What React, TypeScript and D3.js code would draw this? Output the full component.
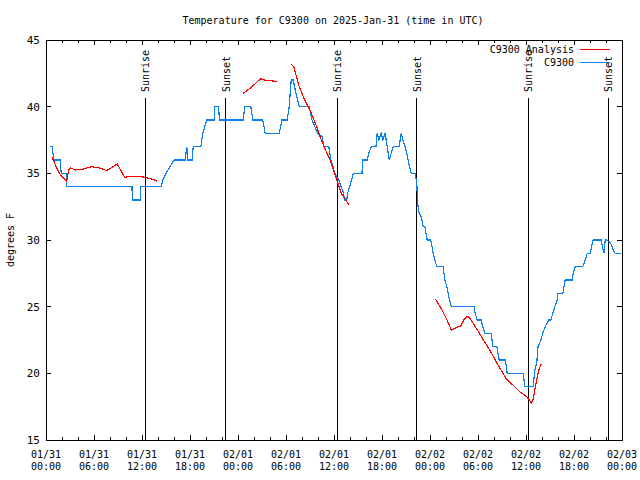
import React from "react";
import * as d3 from "d3";

// ---- data (hours since 2025-01-31 00:00 UTC) ----
const xTickLabels = [
  ["01/31", "00:00"], ["01/31", "06:00"], ["01/31", "12:00"], ["01/31", "18:00"],
  ["02/01", "00:00"], ["02/01", "06:00"], ["02/01", "12:00"], ["02/01", "18:00"],
  ["02/02", "00:00"], ["02/02", "06:00"], ["02/02", "12:00"], ["02/02", "18:00"],
  ["02/03", "00:00"],
];
const yTicks = [15, 20, 25, 30, 35, 40, 45];

const sunLabels = ["Sunrise", "Sunset", "Sunrise", "Sunset", "Sunrise", "Sunset"];
const sunHours = [12.375, 22.45, 36.4, 46.35, 60.25, 70.3];

const obsHours = [
  0.5, 0.75, 1.0, 1.75, 1.9, 2.55, 2.6, 10.75, 10.8, 11.8, 11.85, 14.4, 14.6, 15.0, 15.5, 16.0,
  17.4, 17.6, 17.75, 18.25, 18.4, 19.35, 19.6, 19.85, 20.1, 21.05, 21.1, 21.55, 21.7, 24.65,
  24.85, 25.6, 25.85, 27.1, 27.4, 29.15, 29.5, 30.15, 30.4, 30.65, 30.9, 31.15, 31.65, 32.9,
  33.25, 33.6, 34.0, 34.5, 34.75, 35.35, 35.6, 35.9, 36.1, 36.35, 36.6, 36.9, 37.2, 37.3, 37.6,
  37.7, 37.95, 38.2, 38.4, 39.5, 39.6, 40.15, 40.35, 40.65, 41.25, 41.4, 41.6, 41.9, 42.1, 42.4,
  42.65, 42.9, 43.15, 43.4, 44.15, 44.4, 44.6, 44.9, 45.1, 45.35, 45.65, 46.15, 46.35, 46.4,
  46.5, 46.65, 46.9, 47.15, 47.35, 47.65, 48.1, 48.4, 48.6, 48.85, 49.65, 49.85, 50.1, 50.35,
  50.65, 53.5, 53.65, 53.9, 54.4, 54.6, 54.85, 55.65, 55.85, 56.35, 56.5, 56.65, 57.4, 57.55,
  57.65, 59.65, 59.85, 60.9, 61.1, 61.35, 61.5, 61.85, 62.1, 62.4, 62.85, 63.1, 63.35, 63.6,
  63.9, 64.0, 64.6, 64.75, 64.9, 65.75, 65.9, 66.15, 67.1, 67.4, 67.65, 68.0, 68.2, 68.4, 69.4,
  69.55, 69.75, 69.9, 70.1, 70.6, 70.9, 71.15, 71.9,
];
const obsTemps = [
  37, 37, 36, 36, 35, 35, 34, 34, 33, 33, 34, 34, 34.5, 35, 35.5, 36,
  36, 37, 36, 36, 37, 37, 38, 38.5, 39, 39, 40, 40, 39, 39,
  40, 40, 39, 39, 38, 38, 39, 39, 40, 42, 42, 41.25, 40, 40,
  39, 38.5, 38, 37.75, 37, 37, 36, 35.5, 35, 34.75, 34.5, 34, 33.5, 33, 33,
  33.5, 34, 34.5, 35, 35, 36, 36, 36.5, 37, 37, 38, 37.5, 38, 37.5, 38,
  37, 36, 36.5, 37, 37, 38, 37.5, 37, 36.5, 35.75, 35, 35, 34.25, 33.5,
  32.5, 32, 31.75, 31, 31, 30, 30, 29, 28.5, 28, 28, 27, 26.5, 25.75,
  25, 25, 24.5, 24, 24, 23.5, 23, 23, 22, 22, 21.5, 21, 21, 20.5,
  20, 20, 19, 19, 20.25, 20.8, 22, 22.5, 23, 23.5, 24, 24, 24.5, 25,
  25.5, 26, 26, 26.5, 27, 27, 27.5, 28, 28, 28.5, 29, 29, 29.5, 30, 30,
  29.5, 29, 30, 30, 29.75, 29.25, 29, 29,
];

const analysisSeg1Hours = [0.75, 1.09, 1.66, 2.59, 2.84, 3.09, 3.66, 4.5, 5.41, 5.66, 6.75, 7.59, 8.91, 9.84, 10.34, 11.75, 12.41, 13.34, 13.91];
const analysisSeg1Temps = [36.2, 35.75, 35.0, 34.4, 35.3, 35.4, 35.25, 35.3, 35.45, 35.5, 35.4, 35.2, 35.7, 34.7, 34.75, 34.75, 34.7, 34.55, 34.4];
const analysisSeg2Hours = [24.66, 25.75, 26.84, 27.25, 27.84, 28.84];
const analysisSeg2Temps = [41.0, 41.5, 42.1, 42.0, 41.95, 41.9];
const analysisSeg3Hours = [30.66, 31.0, 31.59, 32.16, 32.66, 33.0, 33.84, 34.25, 34.91, 35.5, 36.09, 36.5, 36.91, 37.41, 37.75, 37.91];
const analysisSeg3Temps = [43.2, 42.95, 41.6, 40.75, 40.1, 39.75, 38.5, 37.75, 36.8, 36.0, 35.0, 34.25, 33.5, 33.1, 32.7, 32.7];
const analysisSeg4Hours = [48.66, 49.5, 50.09, 50.66, 51.34, 51.84, 52.25, 52.75, 53.25, 53.91, 54.84, 55.75, 56.66, 57.59, 58.41, 59.25, 60.09, 60.66, 60.91, 61.25, 61.59, 61.91];
const analysisSeg4Temps = [25.6, 24.75, 24.05, 23.25, 23.45, 23.55, 24.05, 24.3, 23.9, 23.25, 22.35, 21.45, 20.45, 19.55, 19.1, 18.6, 18.25, 17.8, 18.1, 19.25, 20.25, 20.7];

const analysisSegments = [
  [analysisSeg1Hours, analysisSeg1Temps],
  [analysisSeg2Hours, analysisSeg2Temps],
  [analysisSeg3Hours, analysisSeg3Temps],
  [analysisSeg4Hours, analysisSeg4Temps],
];

const RED = "#ff0000";
const BLUE = "#0a80f0";
const FONT = "'DejaVu Sans Mono', 'Liberation Mono', monospace";

export default function App() {
  const W = 640, H = 480;
  const left = 46, right = 622, top = 40, bottom = 440;
  const x = d3.scaleLinear().domain([0, 72]).range([left, right]);
  const y = d3.scaleLinear().domain([15, 45]).range([bottom, top]);

  const line = d3
    .line<[number, number]>()
    .x((d) => x(d[0]))
    .y((d) => y(d[1]));

  const obsPts: [number, number][] = obsHours.map((h, i) => [h, obsTemps[i]]);

  const minorHours = d3.range(0, 73, 2);
  const majorHours = d3.range(0, 73, 6);

  return (
    <svg
      width={W}
      height={H}
      style={{ position: "absolute", left: 0, top: 0, background: "#fff" }}
      fontFamily={FONT}
      fontSize={10}
    >
      <rect x={0} y={0} width={W} height={H} fill="#fff" />
      <text x={333} y={24} textAnchor="middle" fill="#000">
        Temperature for C9300 on 2025-Jan-31 (time in UTC)
      </text>

      {/* y ticks */}
      {yTicks.map((t) => (
        <g key={"y" + t}>
          <line x1={left} x2={left + 5} y1={y(t)} y2={y(t)} stroke="#000" shapeRendering="crispEdges" />
          <line x1={right - 5} x2={right} y1={y(t)} y2={y(t)} stroke="#000" shapeRendering="crispEdges" />
          <text x={40} y={y(t) + 4} textAnchor="end" fill="#000" fontSize={11}>
            {t}
          </text>
        </g>
      ))}

      {/* x ticks */}
      {minorHours.map((h) => {
        const len = h % 6 === 0 ? 5 : 3;
        return (
          <g key={"xt" + h}>
            <line x1={x(h)} x2={x(h)} y1={bottom} y2={bottom - len} stroke="#000" shapeRendering="crispEdges" />
            <line x1={x(h)} x2={x(h)} y1={top} y2={top + len} stroke="#000" shapeRendering="crispEdges" />
          </g>
        );
      })}
      {majorHours.map((h, i) => (
        <g key={"xl" + h}>
          <text x={x(h)} y={458} textAnchor="middle" fill="#000">
            {xTickLabels[i][0]}
          </text>
          <text x={x(h)} y={470} textAnchor="middle" fill="#000">
            {xTickLabels[i][1]}
          </text>
        </g>
      ))}

      <text transform="translate(14,240) rotate(-90)" textAnchor="middle" fill="#000">
        degrees F
      </text>

      {/* sunrise/sunset */}
      {sunHours.map((h, i) => (
        <g key={"sun" + i}>
          <line x1={x(h)} x2={x(h)} y1={98} y2={bottom} stroke="#000" shapeRendering="crispEdges" />
          <text transform={`translate(${x(h) + 4},92) rotate(-90)`} textAnchor="start" fill="#000">
            {sunLabels[i]}
          </text>
        </g>
      ))}

      {/* observations */}
      <path d={line(obsPts) || ""} fill="none" stroke={BLUE} strokeWidth={1.2} shapeRendering="crispEdges" />

      {/* analysis */}
      {analysisSegments.map(([hs, ts], i) => (
        <path
          key={"an" + i}
          d={line(hs.map((h, j) => [h, ts[j]] as [number, number])) || ""}
          fill="none"
          stroke={RED}
          strokeWidth={1.2}
          shapeRendering="crispEdges"
        />
      ))}

      {/* legend */}
      <text x={574} y={53} textAnchor="end" fill="#000">
        C9300 Analysis
      </text>
      <line x1={580} x2={610} y1={49} y2={49} stroke={RED} shapeRendering="crispEdges" />
      <text x={574} y={66} textAnchor="end" fill="#000">
        C9300
      </text>
      <line x1={580} x2={610} y1={62} y2={62} stroke={BLUE} shapeRendering="crispEdges" />

      {/* frame */}
      <rect x={left} y={top} width={right - left} height={bottom - top} fill="none" stroke="#000" shapeRendering="crispEdges" />
    </svg>
  );
}
